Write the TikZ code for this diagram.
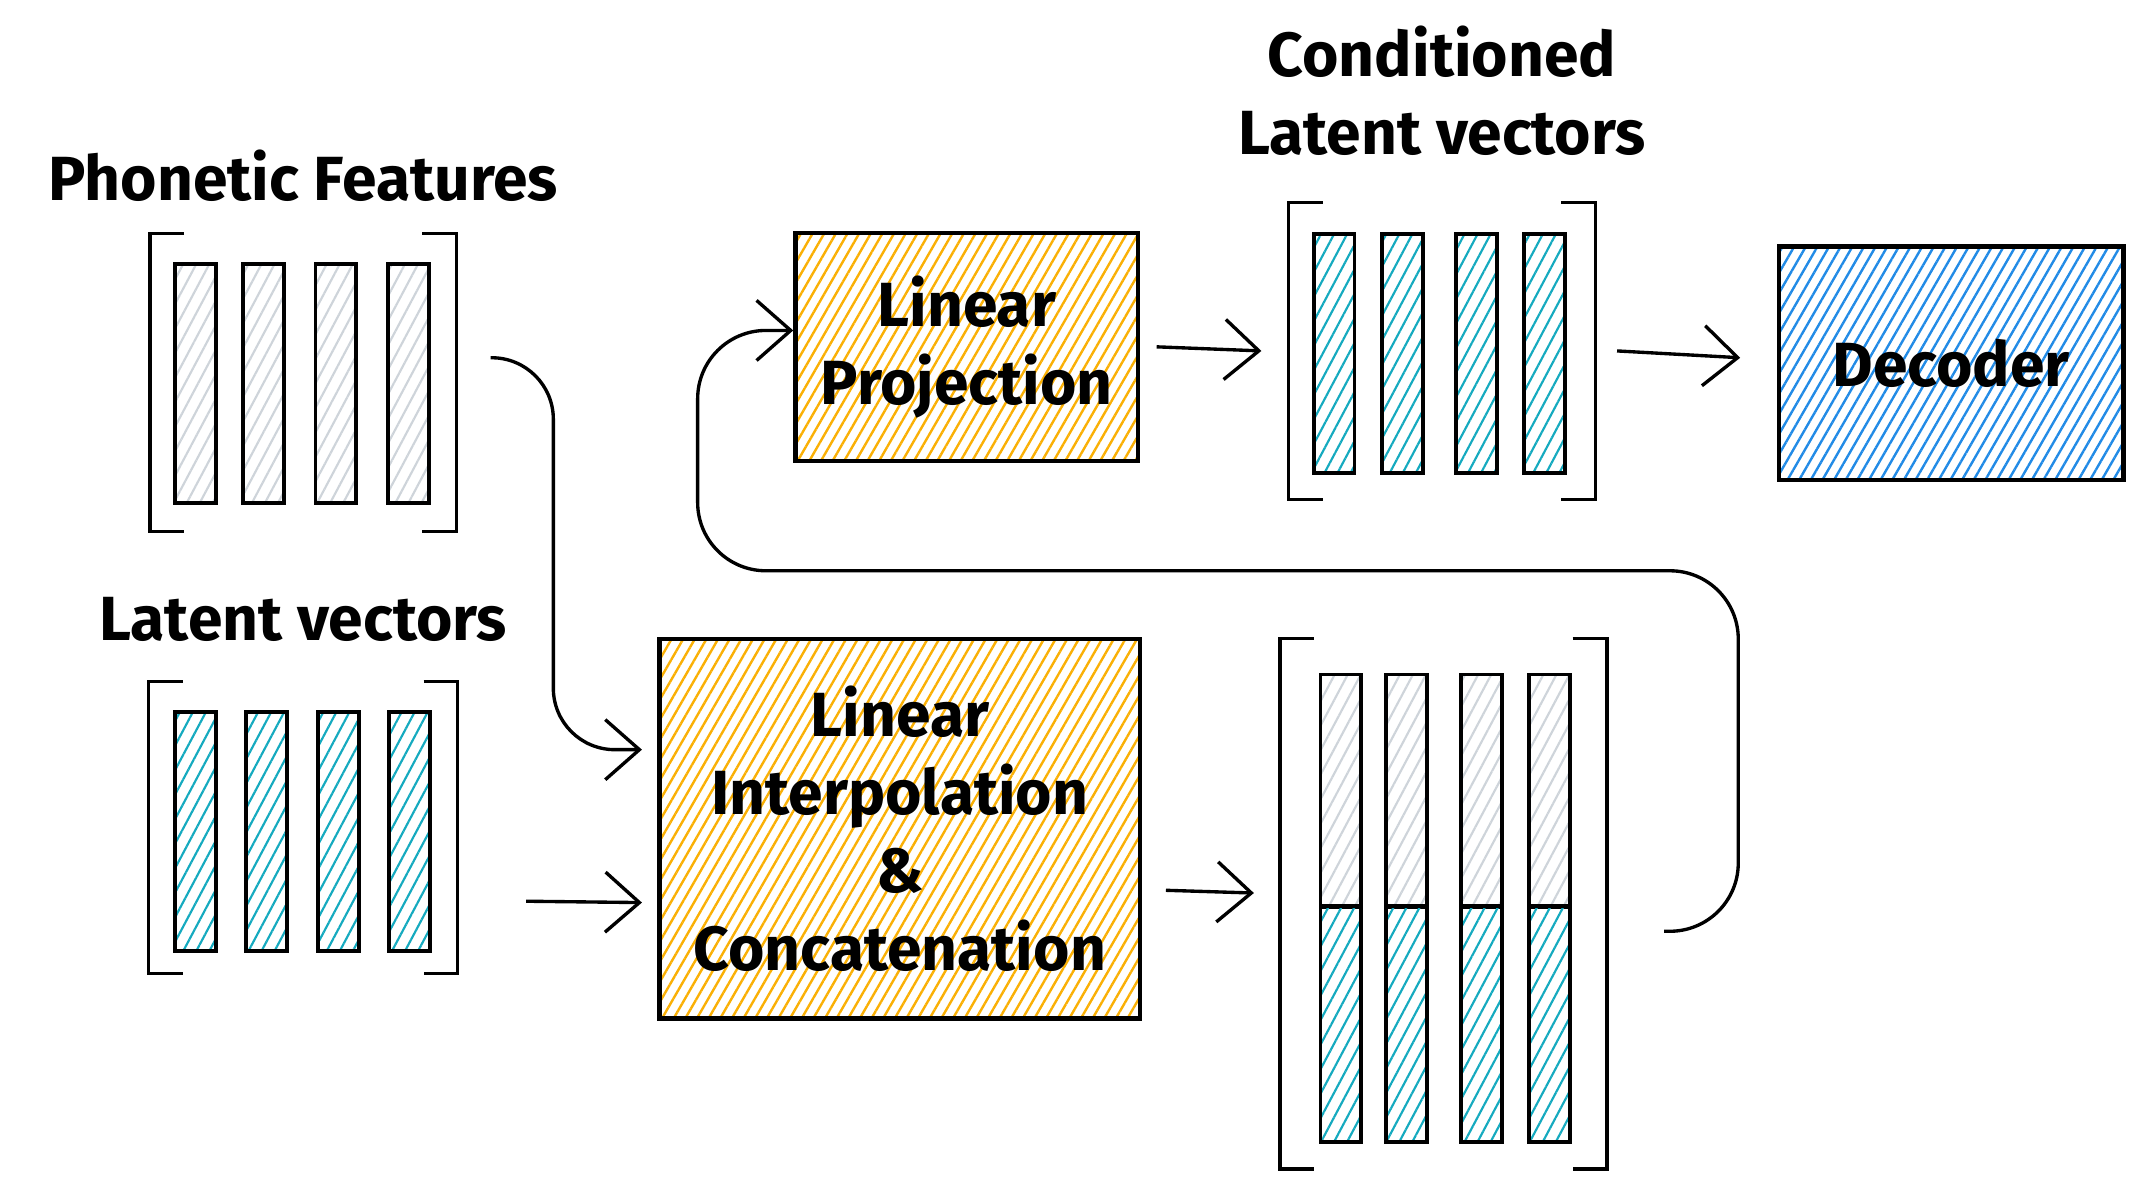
\documentclass[tikz,border=0pt]{standalone}
\usepackage{fontspec}
\setmainfont{Fira Sans}
\usetikzlibrary{arrows.meta,positioning,patterns.meta}

\definecolor{sketchyellow}{HTML}{FAB005}
\definecolor{sketchteal}{HTML}{15AABF}
\definecolor{sketchblue}{HTML}{228BE6}
\definecolor{sketchgrey}{HTML}{CED4DA}

\begin{document}
\begin{tikzpicture}[x=0.1mm, y=-0.1mm, >={Straight Barb[length=2.5mm,width=4.4mm]},
                    line width=0.7pt, text centered, font=\fontsize{13}{16.3}\selectfont\bfseries]
    \tikzstyle{block} = [rectangle, draw=black, line width=0.9pt, align=center,
                         inner sep=0pt, pattern={Lines[angle=60,distance=2.1pt,line width=0.5pt]}]
    \tikzstyle{vecs} = [rectangle, inner sep=0pt, minimum width=2.22cm]
    \tikzstyle{title} = [align=center, inner sep=0pt]
    \tikzstyle{bar} = [rectangle, draw=black, line width=0.8pt, minimum width=0.3cm,
                       minimum height=1.75cm, inner sep=0pt,
                       pattern={Lines[angle=62,distance=2.4pt,line width=0.45pt]}]
    \tikzstyle{phonbar} = [bar, pattern color=sketchgrey]
    \tikzstyle{latbar} = [bar, pattern color=sketchteal]

    \useasboundingbox (0,0) rectangle (1565,877);

    % inputs
    \node (phon) [vecs, minimum height=2.16cm] at (222,280) {};
    \node (phonlbl) [title, above=2.2mm of phon] {Phonetic Features};
    \node (phon1) [phonbar] at (143,281) {};   \node (phon2) [phonbar] at (193,281) {};
    \node (phon3) [phonbar] at (246,281) {};   \node (phon4) [phonbar] at (299,281) {};

    \node (lat) [vecs, minimum width=2.24cm, minimum height=2.11cm] at (222,606) {};
    \node (latlbl) [title, above=2.8mm of lat] {Latent vectors};
    \node (lat1) [latbar] at (143,609) {};   \node (lat2) [latbar] at (195,609) {};
    \node (lat3) [latbar] at (248,609) {};   \node (lat4) [latbar] at (300,609) {};

    % blocks
    \node (interp) [block, minimum width=3.52cm, minimum height=2.78cm, pattern color=sketchyellow]
          at (659,607) {Linear\\Interpolation\\\&\\Concatenation};
    \node (proj) [block, minimum width=2.51cm, minimum height=1.67cm, pattern color=sketchyellow]
          at (708,254) {Linear\\Projection};
    \node (dec) [block, minimum width=2.52cm, minimum height=1.71cm, pattern color=sketchblue]
          at (1429,266) {Decoder};

    % concatenated vectors
    \node (cat) [vecs, minimum width=2.37cm, minimum height=3.86cm] at (1057,662) {};
    \node (catg1) [phonbar, minimum height=1.7cm] at (982,579) {};
    \node (catg2) [phonbar, minimum height=1.7cm] at (1030,579) {};
    \node (catg3) [phonbar, minimum height=1.7cm] at (1085,579) {};
    \node (catg4) [phonbar, minimum height=1.7cm] at (1135,579) {};
    \node (catt1) [latbar, minimum height=1.73cm] at (982,750) {};
    \node (catt2) [latbar, minimum height=1.73cm] at (1030,750) {};
    \node (catt3) [latbar, minimum height=1.73cm] at (1085,750) {};
    \node (catt4) [latbar, minimum height=1.73cm] at (1135,750) {};

    % conditioned vectors
    \node (cond) [vecs, minimum height=2.15cm] at (1056,257) {};
    \node (condlbl) [title, above=3.3mm of cond] {Conditioned\\Latent vectors};
    \node (cond1) [latbar] at (977,259) {};   \node (cond2) [latbar] at (1027,259) {};
    \node (cond3) [latbar] at (1081,259) {};  \node (cond4) [latbar] at (1131,259) {};

    % brackets
    \draw ([xshift=2.5mm]phon.north west) -- (phon.north west) -- (phon.south west) -- ++(2.5mm,0);
    \draw ([xshift=-2.5mm]phon.north east) -- (phon.north east) -- (phon.south east) -- ++(-2.5mm,0);
    \draw ([xshift=2.5mm]lat.north west) -- (lat.north west) -- (lat.south west) -- ++(2.5mm,0);
    \draw ([xshift=-2.5mm]lat.north east) -- (lat.north east) -- (lat.south east) -- ++(-2.5mm,0);
    \draw ([xshift=2.5mm]cat.north west) -- (cat.north west) -- (cat.south west) -- ++(2.5mm,0);
    \draw ([xshift=-2.5mm]cat.north east) -- (cat.north east) -- (cat.south east) -- ++(-2.5mm,0);
    \draw ([xshift=2.5mm]cond.north west) -- (cond.north west) -- (cond.south west) -- ++(2.5mm,0);
    \draw ([xshift=-2.5mm]cond.north east) -- (cond.north east) -- (cond.south east) -- ++(-2.5mm,0);

    % arrows
    \draw [->, rounded corners=4.5mm] ([xshift=2.5mm,yshift=1.8mm]phon.east) -- ++(46,0)
          |- ([xshift=-1.2mm,yshift=5.8mm]interp.west);
    \draw [->] ([xshift=5mm,yshift=-5.4mm]lat.east) -- ([xshift=-1.2mm,yshift=-5.4mm]interp.west);
    \draw [->] ([xshift=1.8mm,yshift=-4.5mm]interp.east) -- ([xshift=-1.9mm,yshift=0.8mm]cat.west);
    \draw [->, rounded corners=5mm] ([xshift=4.2mm,yshift=-2mm]cat.east) -| (1273,418)
          -| ([xshift=-7mm,yshift=1.2mm]proj.west) -- ([yshift=1.2mm]proj.west);
    \draw [->] ([xshift=1.2mm]proj.east) -- ([xshift=-2mm]cond.west);
    \draw [->] ([xshift=1.6mm]cond.east) -- ([xshift=-2.7mm,yshift=0.4mm]dec.west);
\end{tikzpicture}
\end{document}
